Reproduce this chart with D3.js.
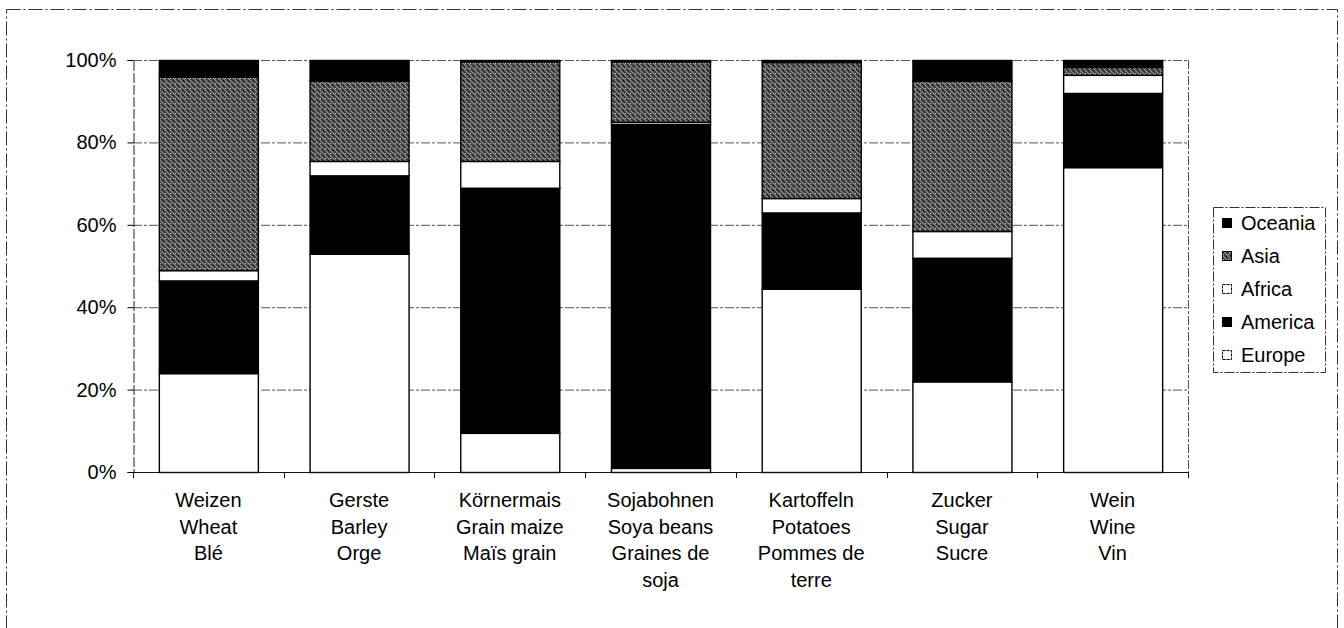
<html>
<head>
<meta charset="utf-8">
<script src="https://cdn.jsdelivr.net/npm/d3@7/dist/d3.min.js"></script>
<style>
  body { margin: 0; background: #fff; }
  text { font-family: "Liberation Sans", Arial, sans-serif; fill: #000; }
</style>
</head>
<body>
<div id="chart"></div>
<script>
// categories, each label is several lines (de / en / fr)
var categories = ["Weizen", "Gerste", "Körnermais", "Sojabohnen", "Kartoffeln", "Zucker", "Wein"];
var catLabels = [
  ["Weizen", "Wheat", "Blé"],
  ["Gerste", "Barley", "Orge"],
  ["Körnermais", "Grain maize", "Maïs grain"],
  ["Sojabohnen", "Soya beans", "Graines de", "soja"],
  ["Kartoffeln", "Potatoes", "Pommes de", "terre"],
  ["Zucker", "Sugar", "Sucre"],
  ["Wein", "Wine", "Vin"]
];
var seriesNames = ["Europe", "America", "Africa", "Asia", "Oceania"];
// shares in %
var europe  = [24,   53,   9.5,  1,    44.5, 22,   74];
var america = [22.5, 19,   59.5, 83.5, 18.5, 30,   18];
var africa  = [2.5,  3.5,  6.5,  0.5,  3.5,  6.5,  4.4];
var asia    = [47,   19.5, 24.2, 14.7, 33,   36.5, 1.9];
var oceania = [4,    5,    0.3,  0.3,  0.5,  5,    1.7];
var yTicks = [0, 20, 40, 60, 80, 100];

var W = 1344, H = 628;
var svg = d3.select("#chart").append("svg").attr("width", W).attr("height", H);

// scanned halftone look for Asia
var defs = svg.append("defs");
var pat = defs.append("pattern").attr("id", "asiaPat")
    .attr("patternUnits", "userSpaceOnUse").attr("width", 5).attr("height", 5);
pat.append("rect").attr("width", 5).attr("height", 5).attr("fill", "#3a3a3a");
pat.append("path").attr("d", "M-1,-1 L6,6 M-1,4 L1,6 M4,-1 L6,1")
    .attr("stroke", "#9a9a9a").attr("stroke-width", 1.1);
pat.append("rect").attr("x", 3).attr("y", 0).attr("width", 1).attr("height", 1).attr("fill", "#111");
pat.append("rect").attr("x", 0).attr("y", 3).attr("width", 1).attr("height", 1).attr("fill", "#ccc");

var fills = { Europe: "#fff", America: "#000", Africa: "#fff", Asia: "url(#asiaPat)", Oceania: "#000" };

// outer frame
svg.append("rect").attr("x", 6.5).attr("y", 9.5).attr("width", 1331).attr("height", 640)
    .attr("fill", "none").attr("stroke", "#333").attr("stroke-dasharray", "14,3,2,3");

var pLeft = 133, pRight = 1188, pTop = 60, pBottom = 472;

var x = d3.scaleBand().domain(categories).range([pLeft, pRight])
    .paddingInner(0.343).paddingOuter(0.1715);
var y = d3.scaleLinear().domain([0, 100]).range([pBottom, pTop]);

// gridlines
svg.append("g").selectAll("line").data(yTicks.filter(function(d) { return d > 0; }))
  .enter().append("line")
    .attr("x1", pLeft).attr("x2", pRight)
    .attr("y1", function(d) { return y(d) + 0.5; }).attr("y2", function(d) { return y(d) + 0.5; })
    .attr("stroke", "#555").attr("stroke-dasharray", "9,2,3,2");
svg.append("line").attr("x1", pRight + 0.5).attr("x2", pRight + 0.5).attr("y1", pTop).attr("y2", pBottom)
    .attr("stroke", "#555").attr("stroke-dasharray", "9,2,3,2");

// stacked bars
var rows = categories.map(function(c, i) {
  return { cat: c, Europe: europe[i], America: america[i], Africa: africa[i], Asia: asia[i], Oceania: oceania[i] };
});
var stack = d3.stack().keys(seriesNames)(rows);

svg.append("g").selectAll("g").data(stack).enter().append("g")
    .attr("fill", function(s) { return fills[s.key]; })
  .selectAll("rect").data(function(s) { return s; }).enter().append("rect")
    .attr("x", function(d) { return x(d.data.cat) + 0.5; })
    .attr("y", function(d) { return y(d[1]) + 0.5; })
    .attr("width", x.bandwidth())
    .attr("height", function(d) { return y(d[0]) - y(d[1]); })
    .attr("stroke", "#000").attr("stroke-width", 1.4);

// y axis
var yAxis = svg.append("g").attr("transform", "translate(" + (pLeft + 0.5) + ",0)")
    .call(d3.axisLeft(y).tickValues(yTicks).tickSize(6).tickPadding(11)
      .tickFormat(function(d) { return d + "%"; }));
yAxis.select(".domain").attr("stroke", "#222").attr("stroke-dasharray", "10,2");
yAxis.selectAll("text").style("font-size", "20px").attr("font-family", null);

// x axis with ticks between the categories
var step = x.step(), gap = step - x.bandwidth();
var bounds = categories.map(function(c) { return x(c) - gap / 2; });
bounds.push(x(categories[categories.length - 1]) + x.bandwidth() + gap / 2);
svg.append("line").attr("x1", pLeft).attr("x2", pRight).attr("y1", pBottom + 0.5).attr("y2", pBottom + 0.5)
    .attr("stroke", "#111").attr("stroke-width", 1.2);
svg.append("g").selectAll("line").data(bounds).enter().append("line")
    .attr("x1", function(d) { return Math.round(d) + 0.5; }).attr("x2", function(d) { return Math.round(d) + 0.5; })
    .attr("y1", pBottom).attr("y2", pBottom + 6).attr("stroke", "#111");

var lab = svg.append("g").selectAll("text").data(categories).enter().append("text")
    .attr("text-anchor", "middle").style("font-size", "20px")
    .attr("x", function(c) { return x(c) + x.bandwidth() / 2; })
    .attr("y", 507);
lab.selectAll("tspan").data(function(c, i) { return catLabels[i]; }).enter().append("tspan")
    .attr("x", function() { return this.parentNode.getAttribute("x"); })
    .attr("dy", function(d, i) { return i === 0 ? 0 : 26.7; })
    .text(function(d) { return d; });

// legend
var lg = svg.append("g").attr("transform", "translate(1213,207)");
lg.append("rect").attr("x", 0.5).attr("y", 0.5).attr("width", 112).attr("height", 165)
    .attr("fill", "#fff").attr("stroke", "#333").attr("stroke-dasharray", "10,2,2,2");
var items = seriesNames.slice().reverse();
var li = lg.selectAll("g.item").data(items).enter().append("g").attr("class", "item")
    .attr("transform", function(d, i) { return "translate(0," + (16 + i * 33) + ")"; });
li.append("rect").attr("x", 9.5).attr("y", -4.5).attr("width", 9).attr("height", 9)
    .attr("fill", function(d) { return fills[d]; })
    .attr("stroke", "#000")
    .attr("stroke-dasharray", function(d) { return (d === "Africa" || d === "Europe") ? "3,1" : null; });
li.append("text").attr("x", 28).attr("y", 7).style("font-size", "20px")
    .text(function(d) { return d; });
</script>
</body>
</html>
